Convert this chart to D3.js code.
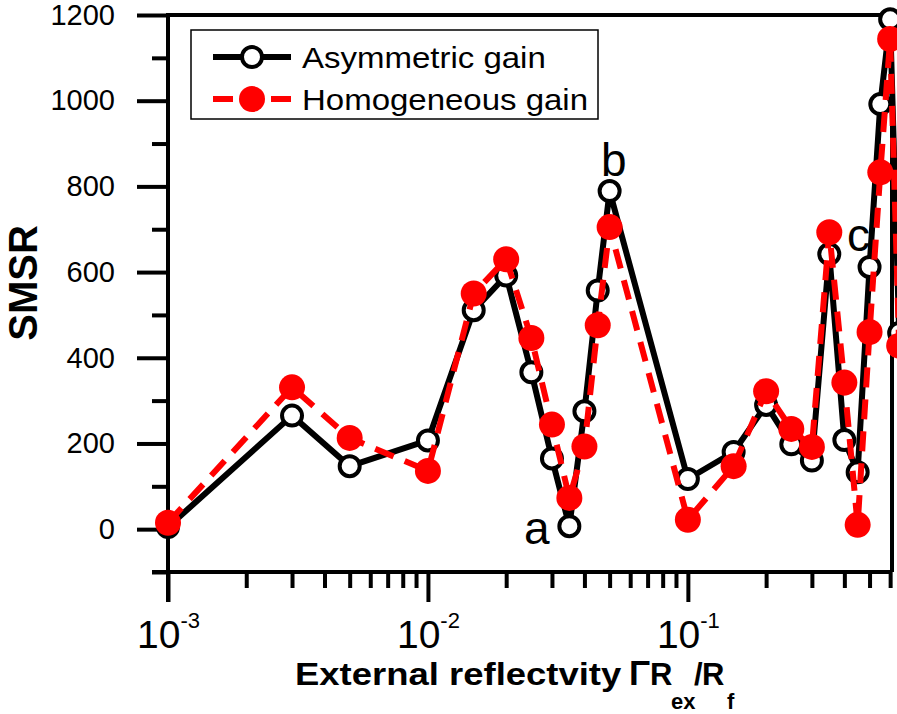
<!DOCTYPE html>
<meta charset="utf-8">
<html>
<head>
<title>SMSR vs external reflectivity</title>
<style>
  body { margin: 0; background: #fff; }
  text { font-family: "Liberation Sans", Arial, sans-serif; }
</style>
</head>
<body>
<div id="viz"></div>
<script src="https://cdnjs.cloudflare.com/ajax/libs/d3/7.8.5/d3.min.js"></script>
<script>
// reflectivity values (x) and SMSR for each gain model
var reflect = [0.001, 0.003, 0.005, 0.01, 0.015, 0.02, 0.025, 0.03, 0.035, 0.04, 0.045, 0.05,
               0.1, 0.15, 0.2, 0.25, 0.3, 0.35, 0.4, 0.45, 0.5, 0.55, 0.6, 0.65];
var asymGain = [5, 265, 147, 207, 511, 592, 366, 165, 7, 275, 557, 789,
                117, 180, 290, 198, 160, 642, 208, 133, 612, 992, 1190, 458];
var homoGain = [15, 331, 213, 136, 550, 630, 446, 244, 73, 193, 476, 705,
                22, 147, 322, 234, 192, 693, 342, 10, 460, 833, 1144, 428];

var yMajor = [0, 200, 400, 600, 800, 1000, 1200];
var yMinor = [-100, 100, 300, 500, 700, 900, 1100];
var xMajor = [0.001, 0.01, 0.1];
var xMajorExp = ["-3", "-2", "-1"];
var xMinor = [0.002, 0.003, 0.004, 0.005, 0.006, 0.007, 0.008, 0.009,
              0.02, 0.03, 0.04, 0.05, 0.06, 0.07, 0.08, 0.09,
              0.2, 0.3, 0.4, 0.5, 0.6];

// annotations
var notes = [{t: "a", x: 524, y: 544}, {t: "b", x: 601, y: 176}, {t: "c", x: 847, y: 251}];

var W = 897, H = 714;
var pLeft = 168, pRight = 892, pTop = 15, pBottom = 572;

var svg = d3.select("#viz").append("svg")
    .attr("width", W).attr("height", H);

var x = d3.scaleLog().domain([0.001, 0.61]).range([pLeft, pRight]);
var y = d3.scaleLinear().domain([-100, 1200]).range([pBottom, pTop]);

// frame top / right
svg.append("line").attr("x1", pLeft).attr("x2", pRight).attr("y1", pTop).attr("y2", pTop)
    .attr("stroke", "#000").attr("stroke-width", 4);
svg.append("line").attr("x1", pRight).attr("x2", pRight).attr("y1", pTop - 2).attr("y2", pBottom)
    .attr("stroke", "#000").attr("stroke-width", 4);

// y axis
var yMin = svg.append("g").attr("transform", "translate(" + pLeft + ",0)")
    .call(d3.axisLeft(y).tickValues(yMinor).tickSize(16).tickFormat(""));
var yMaj = svg.append("g").attr("transform", "translate(" + pLeft + ",0)")
    .call(d3.axisLeft(y).tickValues(yMajor).tickSize(31).tickPadding(22).tickFormat(d3.format("d")));
yMaj.selectAll("text").attr("font-size", 29).attr("fill", "#000")
    .attr("font-family", "'Liberation Sans', Arial, sans-serif");

// x axis
var xMin = svg.append("g").attr("transform", "translate(0," + pBottom + ")")
    .call(d3.axisBottom(x).tickValues(xMinor).tickSize(16).tickFormat(""));
var xMaj = svg.append("g").attr("transform", "translate(0," + pBottom + ")")
    .call(d3.axisBottom(x).tickValues(xMajor).tickSize(30).tickFormat(""));

[yMin, yMaj, xMin, xMaj].forEach(function (g) {
    g.selectAll("line").attr("stroke", "#000").attr("stroke-width", 4);
    g.select(".domain").attr("stroke", "#000").attr("stroke-width", 4);
});
xMin.select(".domain").remove();
yMin.select(".domain").remove();
yMaj.select(".domain").attr("d", "M0," + (pBottom + 30) + "V" + (pTop - 2));
xMaj.select(".domain").attr("d", "M" + (pLeft - 16) + ",0H" + pRight);

xMaj.selectAll(".tick").each(function (d, i) {
    var t = d3.select(this).append("text")
        .attr("y", 76).attr("fill", "#000").attr("text-anchor", "middle")
        .attr("font-size", 39);
    t.append("tspan").text("10");
    t.append("tspan").attr("font-size", 22).attr("dy", -20).text(xMajorExp[i]);
});

// axis titles
svg.append("text")
    .attr("transform", "translate(37,283) rotate(-90)")
    .attr("text-anchor", "middle").attr("font-size", 40).attr("font-weight", "bold")
    .text("SMSR");

// x title: pieces placed at fixed spots so sub-scripts sit right after their letter
var titleParts = [
    {t: "External reflectvity", x: 295, y: 685, fs: 32, sx: 1.14},
    {t: "\u0393", x: 629, y: 685, fs: 35, serif: true},
    {t: "R", x: 650, y: 685, fs: 31},
    {t: "ex", x: 671, y: 709, fs: 22},
    {t: "/", x: 694, y: 685, fs: 31},
    {t: "R", x: 702, y: 685, fs: 31},
    {t: "f", x: 727, y: 709, fs: 22}
];
titleParts.forEach(function (p) {
    var el = svg.append("text")
        .attr("transform", "translate(" + p.x + "," + p.y + ") scale(" + (p.sx || 1) + ",1)")
        .attr("font-size", p.fs).attr("font-weight", "bold")
        .text(p.t);
    if (p.serif) el.attr("font-family", "'Liberation Serif', 'Times New Roman', serif");
});

// series
var ptsA = reflect.map(function (r, i) { return [r, asymGain[i]]; });
var ptsH = reflect.map(function (r, i) { return [r, homoGain[i]]; });
var line = d3.line().x(function (d) { return x(d[0]); }).y(function (d) { return y(d[1]); });

svg.append("path").datum(ptsA).attr("d", line)
    .attr("fill", "none").attr("stroke", "#000").attr("stroke-width", 6)
    .attr("stroke-linejoin", "round");
svg.append("g").selectAll("circle").data(ptsA).enter().append("circle")
    .attr("cx", function (d) { return x(d[0]); })
    .attr("cy", function (d) { return y(d[1]); })
    .attr("r", 10).attr("fill", "#fff").attr("stroke", "#000").attr("stroke-width", 4);

svg.append("path").datum(ptsH).attr("d", line)
    .attr("fill", "none").attr("stroke", "#ff0000").attr("stroke-width", 6)
    .attr("stroke-dasharray", "20,12");
svg.append("g").selectAll("circle").data(ptsH).enter().append("circle")
    .attr("cx", function (d) { return x(d[0]); })
    .attr("cy", function (d) { return y(d[1]); })
    .attr("r", 13).attr("fill", "#ff0000");

// annotations
svg.selectAll(".note").data(notes).enter().append("text")
    .attr("class", "note").attr("x", function (d) { return d.x; })
    .attr("y", function (d) { return d.y; })
    .attr("font-size", 46).attr("fill", "#000")
    .text(function (d) { return d.t; });

// legend
var lg = svg.append("g");
lg.append("rect").attr("x", 191).attr("y", 30).attr("width", 407).attr("height", 89)
    .attr("fill", "#fff").attr("stroke", "#000").attr("stroke-width", 1.5);
lg.append("line").attr("x1", 213).attr("x2", 291).attr("y1", 57).attr("y2", 57)
    .attr("stroke", "#000").attr("stroke-width", 6);
lg.append("circle").attr("cx", 252).attr("cy", 57).attr("r", 10)
    .attr("fill", "#fff").attr("stroke", "#000").attr("stroke-width", 4);
lg.append("line").attr("x1", 213).attr("x2", 291).attr("y1", 99).attr("y2", 99)
    .attr("stroke", "#ff0000").attr("stroke-width", 6).attr("stroke-dasharray", "20,38");
lg.append("circle").attr("cx", 252).attr("cy", 99).attr("r", 13).attr("fill", "#ff0000");
lg.append("text").attr("transform", "translate(302,68) scale(1.1,1)")
    .attr("font-size", 30).text("Asymmetric gain");
lg.append("text").attr("transform", "translate(302,110) scale(1.1,1)")
    .attr("font-size", 30).text("Homogeneous gain");
</script>
</body>
</html>
